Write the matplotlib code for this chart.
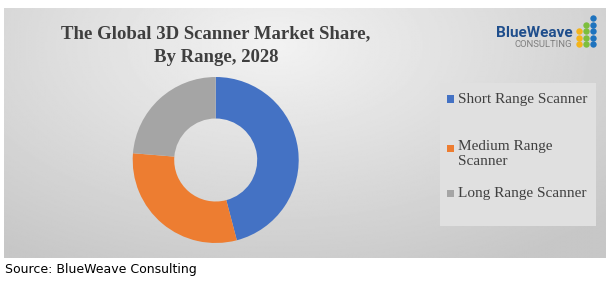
import numpy as np
import matplotlib
matplotlib.use("Agg")
import matplotlib.pyplot as plt
from matplotlib.patches import Rectangle

# --- data ------------------------------------------------------------------
categories = ["Short Range Scanner", "Medium Range\nScanner", "Long Range Scanner"]
shares = [45.9, 30.4, 23.7]
colors = ["#4472C4", "#ED7D31", "#A5A5A5"]

W, H = 614, 281
fig = plt.figure(figsize=(W / 100, H / 100), dpi=100)
fig.patch.set_facecolor("white")


def fx(px):
    return px / W


def fy(py):
    return 1 - py / H


# --- gradient panel --------------------------------------------------------
P_L, P_R, P_T, P_B = 4, 606, 8, 258
bg = fig.add_axes([fx(P_L), fy(P_B), fx(P_R) - fx(P_L), fy(P_T) - fy(P_B)])
yy, xx = np.mgrid[0:1:200j, 0:1:400j]
d = np.sqrt(((xx - 0.45) / 0.75) ** 2 + ((yy - 0.15) / 1.0) ** 2)
g = np.clip(0.95 - 0.17 * d, 0.78, 0.95)
bg.imshow(g, cmap="gray", vmin=0, vmax=1, aspect="auto",
          extent=[0, 1, 1, 0], interpolation="bilinear")
bg.set_xlim(0, 1)
bg.set_ylim(1, 0)
bg.axis("off")

# legend panel (slightly lighter box), in panel-fraction coordinates
bx0, bx1, by0, by1 = 440, 596, 83, 226
bg.add_patch(Rectangle(((bx0 - P_L) / (P_R - P_L), (by0 - P_T) / (P_B - P_T)),
                       (bx1 - bx0) / (P_R - P_L), (by1 - by0) / (P_B - P_T),
                       facecolor="#e0e0e0", edgecolor="none", zorder=2))

# --- donut -----------------------------------------------------------------
cx, cy, r = 215.7, 160, 83
ax = fig.add_axes([fx(cx - r), fy(cy + r), 2 * r / W, 2 * r / H])
wedges, _ = ax.pie(shares, colors=colors, startangle=90, counterclock=False,
                   radius=1.0, wedgeprops=dict(width=0.5, linewidth=0))
ax.set_xlim(-1, 1)
ax.set_ylim(-1, 1)
ax.set_aspect("auto")
ax.axis("off")

# --- title -----------------------------------------------------------------
title_kw = dict(ha="center", va="center", fontsize=13.5, fontweight="bold",
                family="Liberation Serif", color="#3f3f3f")
fig.text(fx(216), fy(34), "The Global 3D Scanner Market Share,", **title_kw)
fig.text(fx(216), fy(58), "By Range, 2028", **title_kw)

# --- legend ----------------------------------------------------------------
leg_y = [99, 148, 193]
leg_kw = dict(ha="left", fontsize=11, family="Liberation Serif",
              color="#404040")
for lab, col, y in zip(categories, colors, leg_y):
    fig.patches.append(Rectangle((fx(447), fy(y + 3.5)), 7 / W, 7 / H,
                                 transform=fig.transFigure, facecolor=col,
                                 edgecolor="none"))
    if "\n" in lab:
        fig.text(fx(458), fy(y - 8), lab, va="top", linespacing=1.2, **leg_kw)
    else:
        fig.text(fx(458), fy(y), lab, va="center", **leg_kw)

# --- logo ------------------------------------------------------------------
fig.text(fx(573), fy(33), "BlueWeave", ha="right", va="center", fontsize=11,
         fontweight="bold", family="Roboto", color="#1F4E8C")
fig.text(fx(572), fy(44.5), "CONSULTING", ha="right", va="center",
         fontsize=6.8, family="Roboto", color="#7f7f7f")
dot_cols = [579, 586, 593]
dot_rows = [18, 25, 31, 37.5, 44]
dot_colors = ["#F4B41A", "#7DBE3C", "#1E73BE"]
first_row = [2, 1, 0]
for cxp, dc, fr in zip(dot_cols, dot_colors, first_row):
    ys = [fy(v) for v in dot_rows[fr:]]
    fig.add_artist(plt.Line2D([fx(cxp)] * len(ys), ys, ls="none", marker="o",
                              ms=4.6, mew=0, color=dc,
                              transform=fig.transFigure))

# --- source ----------------------------------------------------------------
fig.text(fx(5), fy(269), "Source: BlueWeave Consulting", ha="left",
         va="center", fontsize=9, family="DejaVu Sans", color="#000000")

fig.savefig("out.png", dpi=100)
